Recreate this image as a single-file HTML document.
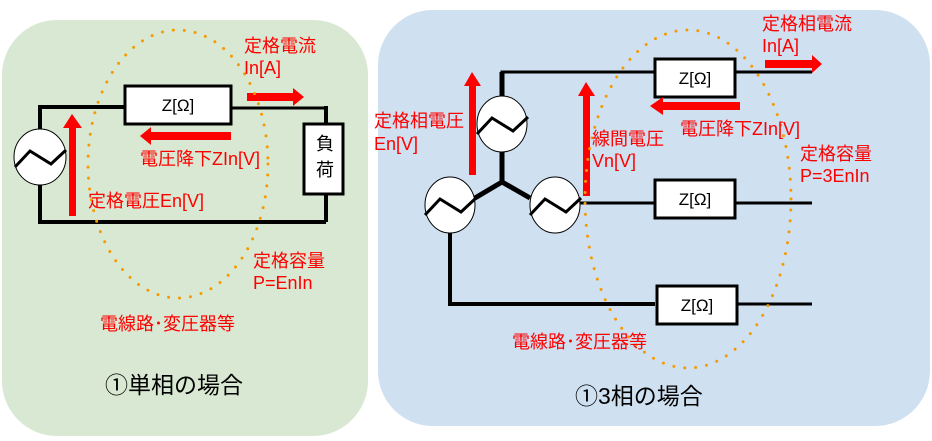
<!DOCTYPE html>
<html><head><meta charset="utf-8"><style>
body{margin:0;background:#fff}
svg{display:block}
text{font-family:"Liberation Sans","Noto Sans CJK JP",sans-serif}
.r{fill:#f00;font-size:18px}
</style></head><body>
<svg width="932" height="441" viewBox="0 0 932 441">
<rect x="2" y="20" width="366" height="416" rx="55" fill="#d9e8d2"/>
<rect x="378" y="10" width="552" height="416" rx="55" fill="#cfe0f1"/>
<g stroke="#000" fill="none">
<polyline points="40,130 40,107 125,107" stroke-width="4"/>
<line x1="231" y1="108" x2="326" y2="108" stroke-width="3"/>
<line x1="326" y1="106" x2="326" y2="124" stroke-width="4"/>
<line x1="326" y1="194" x2="326" y2="222" stroke-width="4"/>
<polyline points="40,185 40,222 326,222" stroke-width="4"/>
<polyline points="502,98 502,72 655,72" stroke-width="3"/>
<line x1="502" y1="98" x2="502" y2="72" stroke-width="5"/>
<line x1="735" y1="72" x2="812" y2="72" stroke-width="3"/>
<polyline points="502,152 502,182 475,198" stroke-width="5"/>
<line x1="502" y1="182" x2="530" y2="198" stroke-width="5"/>
<line x1="580" y1="203" x2="655" y2="203" stroke-width="3"/>
<line x1="735" y1="203" x2="812" y2="203" stroke-width="3"/>
<polyline points="450,232 450,304 655,304" stroke-width="4"/>
<line x1="737" y1="304" x2="812" y2="304" stroke-width="3"/>
</g>
<g stroke="#000" stroke-width="1" fill="#fff">
<ellipse cx="40" cy="157" rx="26" ry="28"/>
<ellipse cx="502" cy="124" rx="25" ry="28"/>
<ellipse cx="450" cy="205" rx="25" ry="28"/>
<ellipse cx="555" cy="205" rx="25" ry="28"/>
</g>
<g stroke="#000" stroke-width="3" fill="none">
<polyline points="15,167 30,151 51,164 66,150"/>
<polyline points="477,134 492,118 513,131 528,117"/>
<polyline points="425,215 440,199 461,212 476,198"/>
<polyline points="530,215 545,199 566,212 581,198"/>
</g>
<g stroke="#000" stroke-width="3" fill="#fff">
<rect x="125" y="86" width="106" height="38"/>
<rect x="304" y="124" width="39" height="70"/>
<rect x="655" y="59" width="80" height="38"/>
<rect x="655" y="180" width="80" height="38"/>
<rect x="657" y="286" width="80" height="38"/>
</g>
<g font-size="17" fill="#000" text-anchor="middle">
<text x="178" y="111">Z[Ω]</text>
<text x="325" y="150" font-size="18">負</text>
<text x="325" y="176" font-size="18">荷</text>
<text x="695" y="84">Z[Ω]</text>
<text x="695" y="205">Z[Ω]</text>
<text x="697" y="311">Z[Ω]</text>
</g>
<g fill="#f00">
<rect x="69" y="126" width="7" height="90"/><polygon points="63,128 72,114 82,128"/>
<rect x="247" y="93" width="48" height="8"/><polygon points="293,88 304,97 293,106"/>
<rect x="150" y="132" width="81" height="8"/><polygon points="151,127 140,136 151,145"/>
<rect x="469" y="84" width="7" height="91"/><polygon points="464,86 472,72 481,86"/>
<rect x="583" y="94" width="7" height="102"/><polygon points="578,96 586,82 595,96"/>
<rect x="765" y="60" width="48" height="8"/><polygon points="812,55 822,64 812,73"/>
<rect x="662" y="102" width="78" height="8"/><polygon points="663,97 650,106 663,115"/>
</g>
<g fill="none" stroke="#f59a00" stroke-width="3" stroke-linecap="round" stroke-dasharray="0 11">
<ellipse cx="178" cy="164" rx="90" ry="134"/>
<ellipse cx="688" cy="199" rx="103" ry="169"/>
</g>
<g>
<text x="244" y="52" class="r">定格電流</text>
<text x="244" y="74" class="r">In[A]</text>
<text x="140" y="165" class="r">電圧降下ZIn[V]</text>
<text x="88" y="207" class="r">定格電圧En[V]</text>
<text x="253" y="267" class="r">定格容量</text>
<text x="253" y="289" class="r">P=EnIn</text>
<text x="100" y="330" class="r">電線路･変圧器等</text>
<text x="762" y="30" class="r">定格相電流</text>
<text x="762" y="52" class="r">In[A]</text>
<text x="374" y="127" class="r">定格相電圧</text>
<text x="374" y="150" class="r">En[V]</text>
<text x="592" y="145" class="r">線間電圧</text>
<text x="592" y="167" class="r">Vn[V]</text>
<text x="680" y="135" class="r">電圧降下ZIn[V]</text>
<text x="800" y="160" class="r">定格容量</text>
<text x="800" y="182" class="r">P=3EnIn</text>
<text x="512" y="348" class="r">電線路･変圧器等</text>
</g>
<text x="105" y="393" font-size="23" fill="#000">①単相の場合</text>
<text x="575" y="404" font-size="23" fill="#000">①3相の場合</text>
</svg>
</body></html>
